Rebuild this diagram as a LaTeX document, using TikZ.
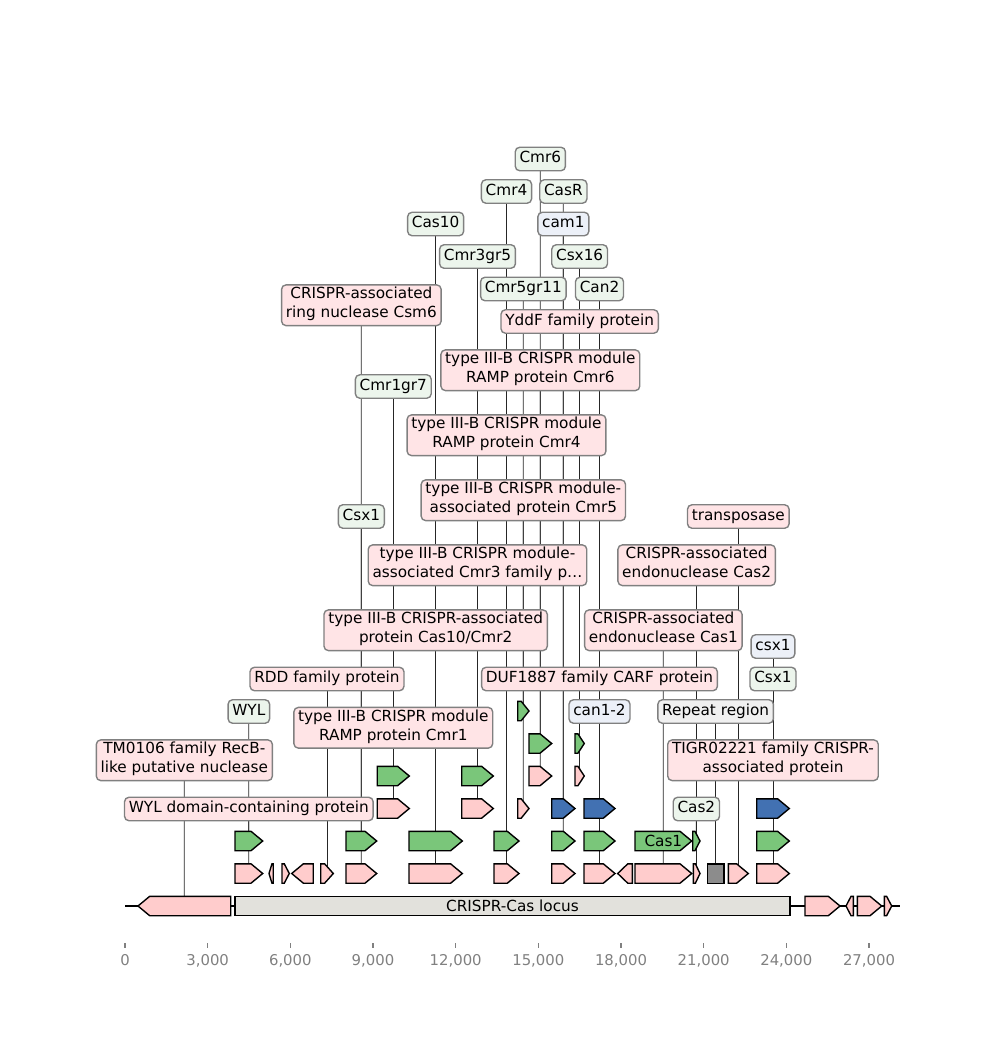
\documentclass[tikz,border=0pt]{standalone}
\usepackage{fontspec}
\setmainfont{DejaVu Sans}
\pgfdeclarelayer{bg}
\pgfsetlayers{bg,main}
\definecolor{fpink}{RGB}{255,204,204}
\definecolor{fgreen}{RGB}{122,198,122}
\definecolor{fblue}{RGB}{66,113,178}
\definecolor{fgray}{RGB}{140,140,140}
\definecolor{locus}{RGB}{226,225,220}
\definecolor{bpink}{RGB}{255,228,230}
\definecolor{bgreen}{RGB}{236,245,236}
\definecolor{bblue}{RGB}{236,240,248}
\definecolor{bgray}{RGB}{240,240,240}
\definecolor{bedge}{RGB}{128,128,128}
\definecolor{tickc}{RGB}{128,128,128}
\newcommand\featR[5]{%
  \pgfmathsetmacro\myfl{#3-#2}%
  \pgfmathsetmacro\myfh{min(0.69*\myfl,11.7)}%
  \draw[feat,fill=#5] (#2,#4-9.7) -- (#3-\myfh,#4-9.7) -- (#3,#4) -- (#3-\myfh,#4+9.7) -- (#2,#4+9.7) -- cycle;
  \coordinate (#1) at ({(#2+#3)/2},#4);}
\newcommand\featL[5]{%
  \pgfmathsetmacro\myfl{#3-#2}%
  \pgfmathsetmacro\myfh{min(0.69*\myfl,11.7)}%
  \draw[feat,fill=#5] (#3,#4-9.7) -- (#2+\myfh,#4-9.7) -- (#2,#4) -- (#2+\myfh,#4+9.7) -- (#3,#4+9.7) -- cycle;
  \coordinate (#1) at ({(#2+#3)/2},#4);}
\newcommand\featB[5]{%
  \draw[feat,fill=#5] (#2,#4-9.7) rectangle (#3,#4+9.7);
  \coordinate (#1) at ({(#2+#3)/2},#4);}
\begin{document}
\begin{tikzpicture}[x=0.72pt,y=-0.72pt,
  feat/.style={draw=black,line width=1pt,miter limit=20},
  conn/.style={draw=black!85,line width=0.55pt},
  lab/.style={draw=bedge,line width=1pt,rounded corners=3.2pt,align=center,
    font=\fontsize{11}{13.5}\selectfont,inner xsep=3.1pt,inner ysep=1.7pt,
    execute at begin node=\strut},
  lp/.style={lab,fill=bpink},
  lg/.style={lab,fill=bgreen},
  lb/.style={lab,fill=bblue},
  lgr/.style={lab,fill=bgray},
  intext/.style={font=\fontsize{11}{13.5}\selectfont,inner sep=0pt},
  ticklab/.style={font=\fontsize{10.7}{13.4}\selectfont,text=tickc,anchor=base,inner sep=0pt}]
\useasboundingbox (0,0) rectangle (1000,1060);
% backbone
\coordinate (axl) at (125,906);
\coordinate (axr) at (900,906);
\draw[line width=1.3pt] (axl) -- (axr);
% row 0
\featL{f0a}{138}{230.7}{906}{fpink}
\featB{f0b}{235}{790}{906}{locus}
\node[intext] (t0b) at (f0b) {CRISPR-Cas locus};
\featR{f0c}{805}{840}{906}{fpink}
\featL{f0d}{846}{853.3}{906}{fpink}
\featR{f0e}{857.3}{881.7}{906}{fpink}
\featR{f0f}{884.3}{891.7}{906}{fpink}
% row 1
\featR{f1a}{235}{262.7}{873.5}{fpink}
\featL{f1b}{269}{273.3}{873.5}{fpink}
\featR{f1c}{282}{289.3}{873.5}{fpink}
\featL{f1d}{291.7}{313.3}{873.5}{fpink}
\featR{f1e}{320.7}{333.3}{873.5}{fpink}
\featR{f1f}{346}{376.7}{873.5}{fpink}
\featR{f1g}{409}{462.3}{873.5}{fpink}
\featR{f1h}{494}{519}{873.5}{fpink}
\featR{f1i}{551.7}{575}{873.5}{fpink}
\featR{f1j}{584}{615}{873.5}{fpink}
\featL{f1k}{617.7}{632.3}{873.5}{fpink}
\featR{f1l}{635}{691.7}{873.5}{fpink}
\featR{f1m}{693.3}{700}{873.5}{fpink}
\featB{f1n}{707.3}{724}{873.5}{fgray}
\featR{f1o}{728.3}{748.3}{873.5}{fpink}
\featR{f1p}{756.7}{789.3}{873.5}{fpink}
% row 2
\featR{f2a}{235}{262.7}{841}{fgreen}
\featR{f2b}{346}{376.7}{841}{fgreen}
\featR{f2c}{409}{462.3}{841}{fgreen}
\featR{f2d}{494}{519}{841}{fgreen}
\featR{f2e}{551.7}{575}{841}{fgreen}
\featR{f2f}{584}{615}{841}{fgreen}
\featR{f2g}{635}{691.7}{841}{fgreen}
\node[intext] (t2g) at (f2g) {Cas1};
\featR{f2h}{692.7}{700}{841}{fgreen}
\featR{f2i}{756.7}{789.3}{841}{fgreen}
% row 3
\featR{f3a}{377.3}{409.3}{808.5}{fpink}
\featR{f3b}{461.7}{493.3}{808.5}{fpink}
\featR{f3c}{517.7}{529}{808.5}{fpink}
\featR{f3d}{551.7}{575}{808.5}{fblue}
\featR{f3e}{584}{615}{808.5}{fblue}
\featR{f3f}{756.7}{789.3}{808.5}{fblue}
% row 4
\featR{f4a}{377.3}{409.3}{776}{fgreen}
\featR{f4b}{461.7}{493.3}{776}{fgreen}
\featR{f4c}{529}{551.7}{776}{fpink}
\featR{f4d}{575}{584.3}{776}{fpink}
% row 5
\featR{f5a}{529}{551.7}{743.5}{fgreen}
\featR{f5b}{575}{584.3}{743.5}{fgreen}
% row 6
\featR{f6a}{517.7}{529}{711}{fgreen}
% labels
\node[lg] (l1) at (540.35,159) {Cmr6};
\node[lg] (l2) at (506.5,191.5) {Cmr4};
\node[lg] (l3) at (563.35,191.5) {CasR};
\node[lg] (l4) at (435.65,224) {Cas10};
\node[lb] (l5) at (563.35,224) {cam1};
\node[lg] (l6) at (477.5,256.5) {Cmr3gr5};
\node[lg] (l7) at (579.65,256.5) {Csx16};
\node[lg] (l8) at (523.35,289) {Cmr5gr11};
\node[lg] (l9) at (599.5,289) {Can2};
\node[lp] (l10) at (361.35,305.25) {CRISPR-associated\\\strut ring nuclease Csm6};
\node[lp] (l11) at (579.65,321.5) {YddF family protein};
\node[lp] (l12) at (540.35,370.25) {type III-B CRISPR module\\\strut RAMP protein Cmr6};
\node[lg] (l13) at (393.3,386.5) {Cmr1gr7};
\node[lp] (l14) at (506.5,435.25) {type III-B CRISPR module\\\strut RAMP protein Cmr4};
\node[lp] (l15) at (523.35,500.25) {type III-B CRISPR module-\\\strut associated protein Cmr5};
\node[lg] (l16) at (361.35,516.5) {Csx1};
\node[lp] (l17) at (738.3,516.5) {transposase};
\node[lp] (l18) at (477.5,565.25) {type III-B CRISPR module-\\\strut associated Cmr3 family p…};
\node[lp] (l19) at (696.65,565.25) {CRISPR-associated\\\strut endonuclease Cas2};
\node[lp] (l20) at (435.65,630.25) {type III-B CRISPR-associated\\\strut protein Cas10/Cmr2};
\node[lp] (l21) at (663.35,630.25) {CRISPR-associated\\\strut endonuclease Cas1};
\node[lb] (l22) at (773,646.5) {csx1};
\node[lp] (l23) at (327,679) {RDD family protein};
\node[lp] (l24) at (599.5,679) {DUF1887 family CARF protein};
\node[lg] (l25) at (773,679) {Csx1};
\node[lg] (l26) at (248.85,711.5) {WYL};
\node[lp] (l27) at (393.3,727.75) {type III-B CRISPR module\\\strut RAMP protein Cmr1};
\node[lb] (l28) at (599.5,711.5) {can1-2};
\node[lgr] (l29) at (715.65,711.5) {Repeat region};
\node[lp] (l30) at (184.35,760.25) {TM0106 family RecB-\\\strut like putative nuclease};
\node[lp] (l31) at (773,760.25) {TIGR02221 family CRISPR-\\\strut associated protein};
\node[lp] (l32) at (248.85,809) {WYL domain-containing protein};
\node[lg] (l33) at (696.35,809) {Cas2};
% connectors
\begin{pgfonlayer}{bg}
\foreach \f/\l in {f5a/l1,f2d/l2,f2e/l3,f2c/l4,f3d/l5,f4b/l6,f5b/l7,f6a/l8,f2f/l9,
  f1f/l10,f4d/l11,f4c/l12,f4a/l13,f1h/l14,f3c/l15,f2b/l16,f1o/l17,f3b/l18,f1m/l19,
  f1g/l20,f1l/l21,f3f/l22,f1e/l23,f1j/l24,f2i/l25,f2a/l26,f3a/l27,f3e/l28,f1n/l29,
  f0a/l30,f1p/l31,f1a/l32,f2h/l33}
  \draw[conn] (\f) -- (\l.center);
\end{pgfonlayer}
% axis ticks
\foreach \k/\t in {0/0,1/{3,000},2/{6,000},3/{9,000},4/{12,000},5/{15,000},6/{18,000},7/{21,000},8/{24,000},9/{27,000}}{
  \coordinate (tk\k) at ({125+82.667*\k},943);
  \draw[tickc,line width=0.8pt] (tk\k) -- ++(0,4.9);
  \node[ticklab] (tl\k) at ({125+82.667*\k},965) {\t};
}
\end{tikzpicture}
\end{document}
